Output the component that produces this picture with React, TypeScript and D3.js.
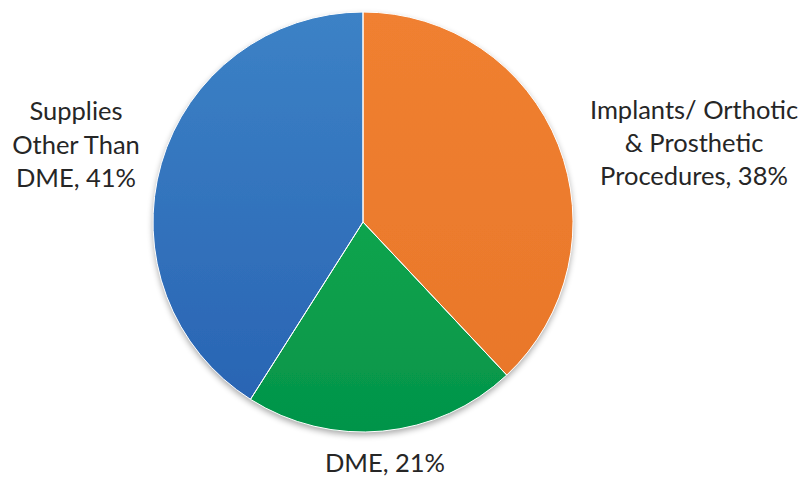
import React from "react";
import * as d3 from "d3";

const categories = ["Implants/ Orthotic & Prosthetic Procedures", "DME", "Supplies Other Than DME"];
const values = [38, 21, 41];
const labelLines = [
  ["Implants/ Orthotic", "& Prosthetic", "Procedures, 38%"],
  ["DME, 21%"],
  ["Supplies", "Other Than", "DME, 41%"],
];
const colorsTop = ["#F08030", "#1FB450", "#3C82C6"];
const colorsBottom = ["#E8762A", "#03944A", "#2862B2"];

export default function App() {
  const W = 807, H = 478;
  const cx = 363, cy = 222, r = 210;
  const pie = d3.pie<number>().sort(null).value((d) => d)(values);
  const arc = d3.arc<d3.PieArcDatum<number>>().innerRadius(0).outerRadius(r);
  const labelPos: [number, number, number][] = [
    [694, 119, 33],
    [385, 472, 33],
    [76, 120, 33.5],
  ];
  return (
    <svg width={W} height={H} style={{ position: "absolute", left: 0, top: 0 }}>
      <defs>
        {values.map((_, i) => (
          <linearGradient key={i} id={`g${i}`} gradientUnits="userSpaceOnUse" x1={0} y1={-r} x2={0} y2={r}>
            <stop offset="0%" stopColor={colorsTop[i]} />
            <stop offset="100%" stopColor={colorsBottom[i]} />
          </linearGradient>
        ))}
        <filter id="sh" x="-10%" y="-10%" width="120%" height="125%">
          <feGaussianBlur in="SourceAlpha" stdDeviation="3" />
          <feOffset dy="3" result="b" />
          <feComponentTransfer><feFuncA type="linear" slope="0.35" /></feComponentTransfer>
          <feMerge><feMergeNode /><feMergeNode in="SourceGraphic" /></feMerge>
        </filter>
      </defs>
      <rect width={W} height={H} fill="#fff" />
      <g transform={`translate(${cx},${cy})`} filter="url(#sh)">
        {pie.map((p, i) => (
          <path key={i} d={arc(p) || ""} fill={`url(#g${i})`} />
        ))}
      </g>
      <g transform={`translate(${cx},${cy})`}>
        {pie.map((p, i) => (
          <path key={i} d={arc(p) || ""} fill="none" stroke="#fff" strokeWidth={1} />
        ))}
      </g>
      {labelLines.map((lines, i) => (
        <text key={i} textAnchor="middle" fontFamily="Lato, 'Open Sans', sans-serif" fontSize={25.5} fill="#262626">
          {lines.map((l, j) => (
            <tspan key={j} x={labelPos[i][0]} y={labelPos[i][1] + j * labelPos[i][2]}>{l}</tspan>
          ))}
        </text>
      ))}
    </svg>
  );
}
